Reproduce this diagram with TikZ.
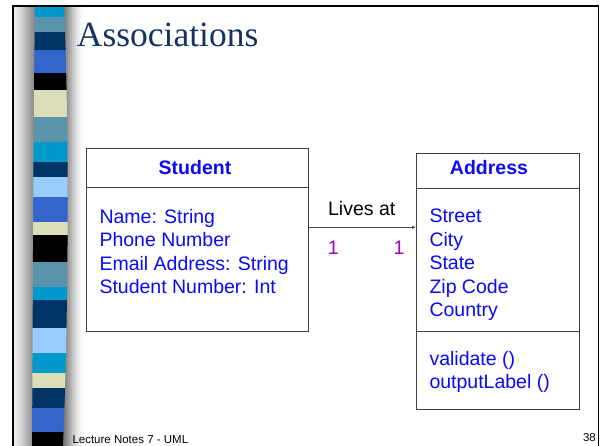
\documentclass[tikz,border=0pt]{standalone}
\usepackage{fontspec}
\setmainfont{Liberation Sans}
\newfontfamily\titlefont{Liberation Serif}
\usetikzlibrary{arrows.meta}
\definecolor{cyanS}{RGB}{0,153,204}
\definecolor{steelS}{RGB}{90,148,172}
\definecolor{navyS}{RGB}{0,51,102}
\definecolor{royalS}{RGB}{51,102,204}
\definecolor{beigeS}{RGB}{221,221,184}
\definecolor{lightS}{RGB}{153,204,255}
\definecolor{umlblue}{RGB}{10,10,245}
\definecolor{multcol}{RGB}{153,0,204}
\definecolor{titlecol}{RGB}{20,50,100}
\definecolor{lA}{RGB}{238,238,238}
\definecolor{lB}{RGB}{232,232,232}
\definecolor{lC}{RGB}{225,225,225}
\definecolor{lD}{RGB}{216,216,216}
\definecolor{lE}{RGB}{206,206,206}
\definecolor{lF}{RGB}{195,195,195}
\definecolor{lG}{RGB}{183,183,183}
\definecolor{lH}{RGB}{172,172,172}
\definecolor{lI}{RGB}{160,160,160}
\definecolor{lJ}{RGB}{150,150,150}
\definecolor{lK}{RGB}{140,140,140}
\definecolor{rA}{RGB}{128,128,128}
\definecolor{rB}{RGB}{145,145,145}
\definecolor{rC}{RGB}{162,162,162}
\definecolor{rD}{RGB}{180,180,180}
\definecolor{rE}{RGB}{197,197,197}
\definecolor{rF}{RGB}{213,213,213}
\definecolor{rG}{RGB}{227,227,227}
\definecolor{rH}{RGB}{238,238,238}
\definecolor{rI}{RGB}{246,246,246}
\definecolor{rJ}{RGB}{252,252,252}
\begin{document}
\begin{tikzpicture}[x=1pt,y=-1pt,
  umlbox/.style={draw=black!75,line width=1pt,rectangle,inner sep=0pt,anchor=north west},
  attr/.style={anchor=base west,inner sep=0pt,text=umlblue,font=\fontsize{19.5}{23}\selectfont},
  hdr/.style={anchor=base,inner sep=0pt,text=umlblue,font=\fontsize{19.5}{23}\selectfont\bfseries},
  mult/.style={anchor=base,inner sep=0pt,text=multcol,font=\fontsize{19.5}{23}\selectfont},
  assoc/.style={draw=black!70,line width=0.9pt,-{Latex[length=4pt,width=3.5pt]}},
  small/.style={inner sep=0pt,font=\fontsize{11.5}{13}\selectfont}
]
\useasboundingbox (0,0) rectangle (604,446);
\fill[white] (0,0) rectangle (604,446);
% side shading (bands)
\fill[lA] (13,5) rectangle (15.2,446);
\fill[lB] (15,5) rectangle (17.2,446);
\fill[lC] (17,5) rectangle (19.2,446);
\fill[lD] (19,5) rectangle (21.2,446);
\fill[lE] (21,5) rectangle (23.2,446);
\fill[lF] (23,5) rectangle (25.2,446);
\fill[lG] (25,5) rectangle (27.2,446);
\fill[lH] (27,5) rectangle (29.2,446);
\fill[lI] (29,5) rectangle (31.2,446);
\fill[lJ] (31,5) rectangle (33.2,446);
\fill[lK] (33,5) rectangle (36,446);
\fill[rA] (62,5) rectangle (66.2,446);
\fill[rB] (66,5) rectangle (68.2,446);
\fill[rC] (68,5) rectangle (70.2,446);
\fill[rD] (70,5) rectangle (72.2,446);
\fill[rE] (72,5) rectangle (74.2,446);
\fill[rF] (74,5) rectangle (76.2,446);
\fill[rG] (76,5) rectangle (78.2,446);
\fill[rH] (78,5) rectangle (80.2,446);
\fill[rI] (80,5) rectangle (82.2,446);
\fill[rJ] (82,5) rectangle (84,446);
% stripe bar
\begin{scope}
\clip (35,6) .. controls (33,150) and (33,300) .. (32,446) -- (63,446) .. controls (69,300) and (69,120) .. (64,6) -- cycle;
\fill[cyanS]  (20,5) rectangle (80,17);
\fill[steelS] (20,17) rectangle (80,32);
\fill[navyS]  (20,32) rectangle (80,50);
\fill[royalS] (20,50) rectangle (80,73);
\fill[black]  (20,73) rectangle (80,90);
\fill[beigeS] (20,90) rectangle (80,117);
\fill[steelS] (20,117) rectangle (80,142);
\fill[cyanS]  (20,142) rectangle (80,162);
\fill[navyS]  (20,162) rectangle (80,177);
\fill[lightS] (20,177) rectangle (80,197);
\fill[royalS] (20,197) rectangle (80,222);
\fill[beigeS] (20,222) rectangle (80,235);
\fill[black]  (20,235) rectangle (80,262);
\fill[steelS] (20,262) rectangle (80,287);
\fill[cyanS]  (20,287) rectangle (80,300);
\fill[navyS]  (20,300) rectangle (80,328);
\fill[lightS] (20,328) rectangle (80,353);
\fill[cyanS]  (20,353) rectangle (80,373);
\fill[beigeS] (20,373) rectangle (80,388);
\fill[navyS]  (20,388) rectangle (80,408);
\fill[royalS] (20,408) rectangle (80,432);
\fill[black]  (20,432) rectangle (80,447);
\end{scope}
% frame
\draw[line width=1.6pt] (12.7,446) -- (12.7,6) -- (598.5,6) -- (598.5,446);
% title
\node[anchor=base west,inner sep=0pt,text=titlecol,font=\titlefont\fontsize{35.5}{40}\selectfont] (title) at (76.7,46.7) {Associations};
% Student class
\node[umlbox,minimum width=221.7pt,minimum height=39.3pt] (shead) at (86,148) {};
\node[umlbox,minimum width=221.7pt,minimum height=143.4pt] (sbody) at (86,187.3) {};
\node[hdr] (sname) at (195,175) {Student};
\node[attr] (s1) at (99.3,223.3) {Name: String};
\node[attr] (s2) at (99.3,246.6) {Phone Number};
\node[attr] (s3) at (99.3,270) {Email Address: String};
\node[attr] (s4) at (99.3,293.3) {Student Number: Int};
% Address class
\node[umlbox,minimum width=163pt,minimum height=34.4pt] (ahead) at (416,153.3) {};
\node[umlbox,minimum width=163pt,minimum height=143.3pt] (abody) at (416,187.7) {};
\node[umlbox,minimum width=163pt,minimum height=78pt] (ameth) at (416,331) {};
\node[hdr] (aname) at (489,175) {Address};
\node[attr] (a1) at (429.3,222.7) {Street};
\node[attr] (a2) at (429.3,246) {City};
\node[attr] (a3) at (429.3,269.7) {State};
\node[attr] (a4) at (429.3,293.3) {Zip Code};
\node[attr] (a5) at (429.3,316.7) {Country};
\node[attr] (m1) at (429.3,365) {validate ()};
\node[attr] (m2) at (429.3,388.3) {outputLabel ()};
% association
\path (sbody.north east) ++(0,40) coordinate (c1);
\draw[assoc] (c1) -- (c1 -| abody.west);
\node[anchor=base,inner sep=0pt,font=\fontsize{19.5}{23}\selectfont] (lives) at (361.7,215) {Lives at};
\node[mult] (m1a) at (333.3,254) {1};
\node[mult] (m1b) at (399,254) {1};
% footer
\node[small,anchor=base west] (foot) at (72.3,443) {Lecture Notes 7 - UML};
\node[small,anchor=base east] (pnum) at (596,441.7) {38};
\end{tikzpicture}
\end{document}
